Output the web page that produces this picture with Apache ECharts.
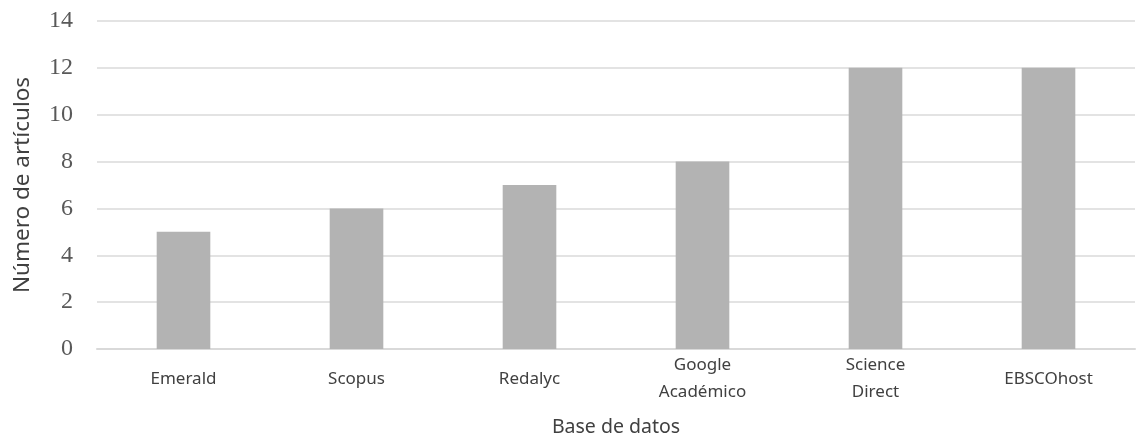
<!DOCTYPE html>
<html>
<head>
<meta charset="utf-8">
<script src="https://cdn.jsdelivr.net/npm/echarts@6/dist/echarts.min.js"></script>
<style>html,body{margin:0;padding:0;background:#fff}#c{width:1143px;height:436px}</style>
</head>
<body>
<div id="c"></div>
<script>
const categories = ["Emerald", "Scopus", "Redalyc", "Google\nAcadémico", "Science\nDirect", "EBSCOhost"];
const values = [5, 6, 7, 8, 12, 12];
const yTicks = { min: 0, max: 14, interval: 2 };

const chart = echarts.init(document.getElementById('c'), null, { renderer: 'canvas' });
chart.setOption({
  animation: false,
  backgroundColor: '#ffffff',
  grid: { left: 97, right: 8, top: 21, bottom: 87, containLabel: false, outerBoundsMode: 'none' },
  xAxis: {
    type: 'category',
    data: categories,
    name: 'Base de datos',
    nameLocation: 'middle',
    nameGap: 68,
    nameTextStyle: { fontFamily: 'Noto Sans', fontSize: 19.5, color: '#404040' },
    axisLine: { show: true, lineStyle: { color: '#d9d9d9', width: 2 } },
    axisTick: { show: false },
    axisLabel: {
      fontFamily: 'Noto Sans', fontSize: 17, color: '#404040',
      lineHeight: 27, verticalAlign: 'middle', margin: 30, interval: 0
    }
  },
  yAxis: {
    type: 'value',
    min: yTicks.min, max: yTicks.max, interval: yTicks.interval,
    name: 'Número de artículos',
    nameLocation: 'middle',
    nameGap: 63,
    nameTextStyle: { fontFamily: 'Noto Sans', fontSize: 22.5, color: '#404040' },
    axisLine: { show: false },
    axisTick: { show: false },
    axisLabel: { fontFamily: 'Liberation Serif', fontSize: 24, color: '#595959', margin: 24 },
    splitLine: { lineStyle: { color: '#e3e3e3', width: 2 } }
  },
  series: [{
    type: 'bar',
    data: values,
    barWidth: '31%',
    itemStyle: { color: '#b3b3b3' }
  }]
});
</script>
</body>
</html>
